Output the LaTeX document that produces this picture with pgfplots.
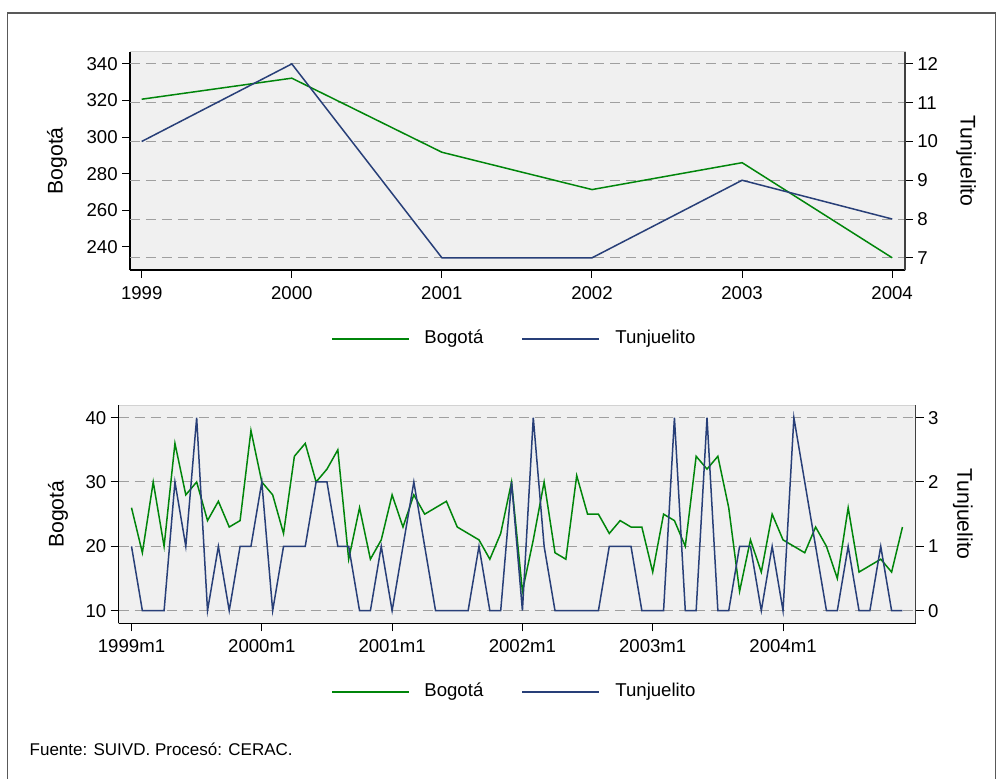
\documentclass[border=0pt]{standalone}
\usepackage{fontspec}
\setmainfont{Liberation Sans}
\usepackage{pgfplots}
\pgfplotsset{compat=1.18}
\definecolor{bog}{HTML}{00850A}
\definecolor{tun}{HTML}{283F78}
\definecolor{plotbg}{HTML}{F0F0F0}
\tikzset{gridd/.style={dash pattern=on 5pt off 3pt, gray!75, line width=0.5pt}}

% monthly series, month 0 = 1999m1
\pgfplotstableread{
m bog tun
0 26 1
1 19 0
2 30 0
3 20 0
4 36 2
5 28 1
6 30 3
7 24 0
8 27 1
9 23 0
10 24 1
11 38 1
12 30 2
13 28 0
14 22 1
15 34 1
16 36 1
17 30 2
18 32 2
19 35 1
20 18 1
21 26 0
22 18 0
23 21 1
24 28 0
25 23 1
26 28 2
27 25 1
28 26 0
29 27 0
30 23 0
31 22 0
32 21 1
33 18 0
34 22 0
35 30 2
36 13 0
37 21 3
38 30 1
39 19 0
40 18 0
41 31 0
42 25 0
43 25 0
44 22 1
45 24 1
46 23 1
47 23 0
48 16 0
49 25 0
50 24 3
51 20 0
52 34 0
53 32 3
54 34 0
55 26 0
56 13 1
57 21 1
58 16 0
59 25 1
60 21 0
61 20 3
62 19 2
63 23 1
64 20 0
65 15 0
66 26 1
67 16 0
68 17 0
69 18 1
70 16 0
71 23 0
}\monthly

\pgfplotstableread{
year bog tun
1999 320.7 10
2000 332.2 12
2001 291.7 7
2002 271.3 7
2003 286.0 9
2004 234.0 8
}\annual

\pgfplotsset{
  base/.style={
    scale only axis,
    anchor=south west,
    tick align=outside,
    major tick length=4pt,
    every tick/.style={black, line width=0.5pt},
    tick label style={font=\fontsize{9.3}{11}\selectfont},
    label style={font=\fontsize{10.6}{12}\selectfont},
    /pgf/number format/assume math mode=true,
    /pgf/number format/1000 sep={},
    axis line style={line width=0.6pt},
    clip=false,
  },
  leftax/.style={
    base,
    axis x line*=bottom, axis y line*=left,
    axis background/.style={fill=plotbg, draw=gray!35, line width=0.4pt},
    yticklabel style={inner sep=1pt, xshift=-1pt},
    xticklabel style={inner sep=1pt, yshift=-3pt},
    ylabel style={rotate=0, anchor=center},
  },
  rightax/.style={
    base,
    axis x line=none, axis y line*=right,
    axis line style={line width=0.6pt, black!75},
    yticklabel style={inner sep=1pt, xshift=1pt},
    ylabel style={rotate=180, anchor=center},
  },
}

\begin{document}
\begin{tikzpicture}
\path[use as bounding box] (0,0) rectangle (501.5pt,-389pt);
\draw[black!65, line width=0.6pt] (3.75pt,-6.5pt) rectangle (497.75pt,-392pt);

% ---------- top panel: annual ----------
\begin{axis}[leftax,
  at={(65pt,-135pt)}, width=387.5pt, height=109.15pt,
  xmin=1998.922, xmax=2004.085, ymin=227.33, ymax=346.67,
  xtick={1999,...,2004}, ytick={240,260,...,340},
  extra y ticks={234,255.2,276.4,297.6,318.8,340},
  extra y tick labels={},
  extra y tick style={grid=major, major grid style={gridd}, major tick length=0pt},
  ylabel={Bogotá},
  ylabel style={at={(rel axis cs:-0.0942,0.5)}},
]
\addplot[bog, line width=0.75pt] table[x=year, y=bog] {\annual};
\end{axis}
\begin{axis}[rightax,
  at={(65pt,-135pt)}, width=387.5pt, height=109.15pt,
  xmin=1998.922, xmax=2004.085, ymin=6.6856, ymax=12.3144,
  ytick={7,...,12},
  ylabel={Tunjuelito},
  ylabel style={at={(rel axis cs:1.0787,0.5)}},
]
\addplot[tun, line width=0.75pt] table[x=year, y=tun] {\annual};
\end{axis}

% ---------- bottom panel: monthly ----------
\begin{axis}[leftax,
  at={(59.35pt,-311.65pt)}, width=398.5pt, height=109.15pt,
  xmin=-1.18, xmax=72.22, ymin=8.034, ymax=41.966,
  xtick={0,12,24,36,48,60},
  xticklabels={1999m1,2000m1,2001m1,2002m1,2003m1,2004m1},
  ytick={10,20,30,40},
  ymajorgrids, major grid style={gridd},
  ylabel={Bogotá},
  ylabel style={at={(rel axis cs:-0.0762,0.5)}},
]
\addplot[bog, line width=0.75pt] table[x=m, y=bog] {\monthly};
\end{axis}
\begin{axis}[rightax,
  at={(59.35pt,-311.65pt)}, width=398.5pt, height=109.15pt,
  xmin=-1.18, xmax=72.22, ymin=-0.1966, ymax=3.1966,
  ytick={0,1,2,3},
  ylabel={Tunjuelito},
  ylabel style={at={(rel axis cs:1.0593,0.5)}},
]
\addplot[tun, line width=0.75pt] table[x=m, y=tun] {\monthly};
\end{axis}

% ---------- legends ----------
\foreach \ly in {-169.5pt,-346pt}{
  \draw[bog, line width=0.75pt] (166pt,\ly) -- (204.5pt,\ly);
  \node[anchor=west, inner sep=0pt, font=\fontsize{9.3}{11}\selectfont] at (212pt,\ly) {Bogotá};
  \draw[tun, line width=0.75pt] (261pt,\ly) -- (299.5pt,\ly);
  \node[anchor=west, inner sep=0pt, font=\fontsize{9.3}{11}\selectfont] at (307.5pt,\ly) {Tunjuelito};
}

\node[anchor=base west, inner sep=0pt, font=\fontsize{8.5}{10}\selectfont] at (14.65pt,-377.9pt) {Fuente: SUIVD. Procesó: CERAC.};
\end{tikzpicture}
\end{document}
